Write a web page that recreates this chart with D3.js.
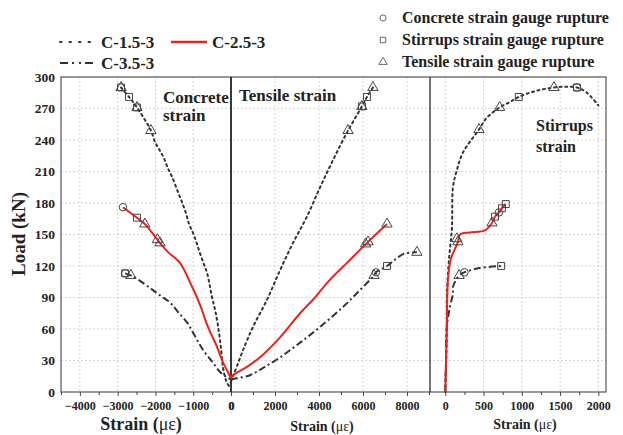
<!DOCTYPE html>
<html>
<head>
<meta charset="utf-8">
<script src="https://cdn.jsdelivr.net/npm/d3@7/dist/d3.min.js"></script>
<style>
  html, body { margin: 0; padding: 0; background: #fff; }
  svg { display: block; }
  text { font-family: "Liberation Serif", "Times New Roman", serif; font-weight: bold; fill: #222; }
</style>
</head>
<body>
<svg id="chart" width="623" height="435"></svg>
<script>
// ---- data: [strain (με), load (kN)] ----
const yTicks = [0, 30, 60, 90, 120, 150, 180, 210, 240, 270, 300];
const concreteTicks = [-4000, -3000, -2000, -1000, 0];
const tensileTicks = [0, 2000, 4000, 6000, 8000];
const stirrupTicks = [0, 500, 1000, 1500, 2000];

// C-1.5-3
const c15Concrete = [[-2910,290],[-2700,281],[-2490,271],[-2120,249],[-2010,238],[-1900,231],[-1780,223],[-1670,213],[-1560,205],[-1400,190],[-1300,181],[-1190,170],[-1110,160],[-1000,151],[-910,142],[-820,132],[-720,122],[-630,113],[-500,90],[-420,78],[-340,62],[-265,42],[-210,23],[-130,11],[-50,6],[0,10]];
const c15Tensile = [[0,10],[90,15],[260,24],[550,40],[1000,62],[1640,88],[2230,116],[2820,142],[3450,167],[4050,195],[4640,221],[5320,249],[5950,272],[6180,281],[6450,290]];
const c15Stirrup = [[0,0],[10,30],[20,62],[22,94],[48,126],[87,157],[100,195],[150,211],[230,228],[440,250],[540,261],[710,271],[840,276],[960,281],[1150,286],[1420,290],[1720,290],[1850,285],[2000,273]];

// C-2.5-3
const c25Concrete = [[-2860,176],[-2490,166],[-2280,160],[-2140,154],[-1880,142],[-1660,133],[-1350,123],[-1080,104],[-820,83],[-610,62],[-370,43],[-210,28],[-110,21],[-40,16],[0,13]];
const c25Tensile = [[0,13],[90,16],[730,24],[1320,33],[2230,52],[3140,75],[3820,90],[4500,107],[5270,123],[6230,143],[7090,160]];
const c25Stirrup = [[0,0],[10,30],[20,62],[25,88],[35,107],[70,126],[165,143],[190,150],[320,152],[520,154],[610,161],[650,167],[700,171],[740,175],[790,179]];

// C-3.5-3
const c35Concrete = [[-2800,113],[-2650,111],[-2460,107],[-2140,99],[-1880,92],[-1610,85],[-1400,76],[-1160,66],[-950,53],[-740,40],[-500,29],[-290,19],[-110,14],[0,12]];
const c35Tensile = [[0,12],[260,13],[860,16],[1460,23],[2230,33],[3140,47],[4050,62],[5090,81],[5860,97],[6500,111],[6590,114],[7090,120],[7450,126],[7910,132],[8450,133]];
const c35Stirrup = [[0,0],[10,30],[20,62],[60,81],[100,94],[100,100],[180,111],[250,114],[450,118],[730,120]];

// gauge rupture points: [strain, load, symbol]
const c15Rupture = {
  concrete: [[-2910,290,"square"],[-2910,290,"triangle"],[-2700,281,"square"],[-2490,271,"square"],[-2490,271,"triangle"],[-2120,249,"triangle"]],
  tensile: [[6450,290,"triangle"],[6180,281,"square"],[5950,272,"square"],[5950,272,"triangle"],[5320,249,"triangle"]],
  stirrup: [[440,250,"triangle"],[710,271,"triangle"],[960,281,"square"],[1420,290,"triangle"],[1720,290,"square"],[1720,290,"circle"]]
};
const c25Rupture = {
  concrete: [[-2860,176,"circle"],[-2490,166,"square"],[-2280,160,"triangle"],[-1950,145,"triangle"],[-1880,142,"triangle"]],
  tensile: [[7090,160,"triangle"],[6230,143,"triangle"],[6120,141,"triangle"]],
  stirrup: [[165,143,"triangle"],[150,146,"triangle"],[610,161,"triangle"],[650,167,"square"],[700,171,"circle"],[740,175,"square"],[790,179,"square"]]
};
const c35Rupture = {
  concrete: [[-2800,113,"square"],[-2800,113,"circle"],[-2650,111,"triangle"]],
  tensile: [[8450,133,"triangle"],[7090,120,"square"],[6590,114,"circle"],[6500,111,"triangle"]],
  stirrup: [[180,111,"triangle"],[250,114,"circle"],[730,120,"square"]]
};

const seriesNames = ["C-1.5-3", "C-2.5-3", "C-3.5-3"];
const symbolNames = ["Concrete strain gauge rupture", "Stirrups strain gauge rupture", "Tensile strain gauge rupture"];

// ---- layout ----
const svg = d3.select("#chart");
const plotTop = 77, plotBottom = 392;
const y = d3.scaleLinear().domain([0, 300]).range([plotBottom, plotTop]);
const xC = d3.scaleLinear().domain([-4500, 0]).range([61, 231]);
const xT = d3.scaleLinear().domain([0, 9000]).range([231, 429]);
const xS = d3.scaleLinear().domain([-200, 2100]).range([430, 606]);

const styles = {
  "C-1.5-3": { stroke: "#333", width: 2, dash: "2,3.6" },
  "C-2.5-3": { stroke: "#e8241c", width: 2, dash: null },
  "C-3.5-3": { stroke: "#333", width: 2, dash: "7,3,2,3" }
};

// grid
const grid = svg.append("g");
yTicks.forEach(v => {
  if (v === 0 || v === 300) return;
  grid.append("line").attr("x1", 61).attr("x2", 606).attr("y1", y(v)).attr("y2", y(v))
    .attr("stroke", "#c8c8c8").attr("stroke-width", 0.8).attr("stroke-dasharray", "2,2");
});
function vgrid(scale, ticks) {
  ticks.forEach(t => {
    grid.append("line").attr("x1", scale(t)).attr("x2", scale(t)).attr("y1", plotTop).attr("y2", plotBottom)
      .attr("stroke", "#c8c8c8").attr("stroke-width", 0.8).attr("stroke-dasharray", "2,2");
  });
}
vgrid(xC, [-4000, -3000, -2000, -1000]);
vgrid(xT, [2000, 4000, 6000, 8000]);
vgrid(xS, [0, 500, 1000, 1500, 2000]);

// frame and panel dividers
svg.append("rect").attr("x", 61).attr("y", plotTop).attr("width", 606 - 61).attr("height", plotBottom - plotTop)
  .attr("fill", "none").attr("stroke", "#555").attr("stroke-width", 1.2);
svg.append("line").attr("x1", xC(0)).attr("x2", xC(0)).attr("y1", plotTop).attr("y2", plotBottom)
  .attr("stroke", "#222").attr("stroke-width", 1.8);
svg.append("line").attr("x1", 430).attr("x2", 430).attr("y1", plotTop).attr("y2", plotBottom)
  .attr("stroke", "#444").attr("stroke-width", 1.5);

// x axes
function xAxis(scale, ticks, minor) {
  const ax = d3.axisBottom(scale).tickValues(ticks).tickSize(4).tickFormat(d3.format("d"));
  const g = svg.append("g").attr("transform", `translate(0,${plotBottom})`).call(ax);
  g.select(".domain").remove();
  g.selectAll("line").attr("stroke", "#444");
  g.selectAll("text").attr("font-size", 12).attr("dy", "0.95em").attr("fill", "#222")
    .attr("font-family", "Liberation Serif").attr("font-weight", "bold");
  const m = d3.axisBottom(scale).tickValues(minor).tickSize(3).tickFormat("");
  const gm = svg.append("g").attr("transform", `translate(0,${plotBottom})`).call(m);
  gm.select(".domain").remove();
  gm.selectAll("line").attr("stroke", "#444");
}
xAxis(xC, concreteTicks, [-4500, -3500, -2500, -1500, -500]);
xAxis(xT, tensileTicks, [1000, 3000, 5000, 7000, 9000]);
xAxis(xS, stirrupTicks, [250, 750, 1250, 1750]);

// y axis
const yAx = svg.append("g").attr("transform", "translate(61,0)")
  .call(d3.axisLeft(y).tickValues(yTicks).tickSize(0).tickPadding(6));
yAx.select(".domain").remove();
yAx.selectAll("text").attr("font-size", 13.5).attr("fill", "#222")
  .attr("font-family", "Liberation Serif").attr("font-weight", "bold");

// axis titles
svg.append("text").attr("transform", "translate(25,234) rotate(-90)").attr("text-anchor", "middle")
  .attr("font-size", 19).text("Load (kN)");
function strainTitle(x, yy, size) {
  const t = svg.append("text").attr("x", x).attr("y", yy).attr("text-anchor", "middle").attr("font-size", size);
  t.append("tspan").text("Strain (");
  t.append("tspan").attr("font-weight", "normal").style("font-weight", "normal").text("με");
  t.append("tspan").text(")");
}
strainTitle(141, 430, 18);
strainTitle(322, 431, 14);
strainTitle(525, 429, 14);

// panel labels
svg.append("text").attr("x", 163).attr("y", 103).attr("font-size", 17).text("Concrete");
svg.append("text").attr("x", 163).attr("y", 121).attr("font-size", 17).text("strain");
svg.append("text").attr("x", 239).attr("y", 101).attr("font-size", 17).text("Tensile strain");
svg.append("text").attr("x", 536).attr("y", 131).attr("font-size", 16).text("Stirrups");
svg.append("text").attr("x", 536).attr("y", 152).attr("font-size", 16).text("strain");

// curves
const curves = [
  ["C-1.5-3", c15Concrete, xC], ["C-1.5-3", c15Tensile, xT], ["C-1.5-3", c15Stirrup, xS],
  ["C-3.5-3", c35Concrete, xC], ["C-3.5-3", c35Tensile, xT], ["C-3.5-3", c35Stirrup, xS],
  ["C-2.5-3", c25Concrete, xC], ["C-2.5-3", c25Tensile, xT], ["C-2.5-3", c25Stirrup, xS]
];
curves.forEach(([name, data, xs]) => {
  const st = styles[name];
  const line = d3.line().x(d => xs(d[0])).y(d => y(d[1])).curve(d3.curveCatmullRom.alpha(0.5));
  svg.append("path").datum(data).attr("d", line).attr("fill", "none")
    .attr("stroke", st.stroke).attr("stroke-width", st.width)
    .attr("stroke-dasharray", st.dash).attr("stroke-linecap", name === "C-1.5-3" ? "round" : "butt");
});

// rupture symbols
const symType = { circle: d3.symbolCircle, square: d3.symbolSquare, triangle: d3.symbolTriangle };
const symSize = { circle: 44, square: 48, triangle: 46 };
function drawSymbols(pts, xs) {
  pts.forEach(([sx, ld, kind]) => {
    svg.append("path").attr("d", d3.symbol().type(symType[kind]).size(symSize[kind])())
      .attr("transform", `translate(${xs(sx)},${y(ld)})`)
      .attr("fill", "none").attr("stroke", "#444").attr("stroke-width", 1);
  });
}
[c15Rupture, c25Rupture, c35Rupture].forEach(r => {
  drawSymbols(r.concrete, xC);
  drawSymbols(r.tensile, xT);
  drawSymbols(r.stirrup, xS);
});

// legend: series
const legL = [
  { name: seriesNames[0], x: 60, y: 42 },
  { name: seriesNames[1], x: 171, y: 42 },
  { name: seriesNames[2], x: 60, y: 63 }
];
legL.forEach(l => {
  const st = styles[l.name];
  svg.append("line").attr("x1", l.x).attr("x2", l.x + 36).attr("y1", l.y).attr("y2", l.y)
    .attr("stroke", st.stroke).attr("stroke-width", l.name === "C-2.5-3" ? 2.5 : 2)
    .attr("stroke-dasharray", l.name === "C-1.5-3" ? "1.5,8" : (l.name === "C-3.5-3" ? "8,4,2,5,2,4" : null))
    .attr("stroke-linecap", l.name === "C-1.5-3" ? "round" : "butt");
  svg.append("text").attr("x", l.x + 41).attr("y", l.y + 6).attr("font-size", 17).text(l.name);
});

// legend: symbols
const legR = [["circle", 18], ["square", 40], ["triangle", 62]];
legR.forEach(([kind, ly], i) => {
  svg.append("path").attr("d", d3.symbol().type(symType[kind]).size(30)())
    .attr("transform", `translate(383,${ly})`).attr("fill", "none").attr("stroke", "#555").attr("stroke-width", 0.9);
  svg.append("text").attr("x", 402).attr("y", ly + 5).attr("font-size", 16).text(symbolNames[i]);
});
</script>
</body>
</html>
